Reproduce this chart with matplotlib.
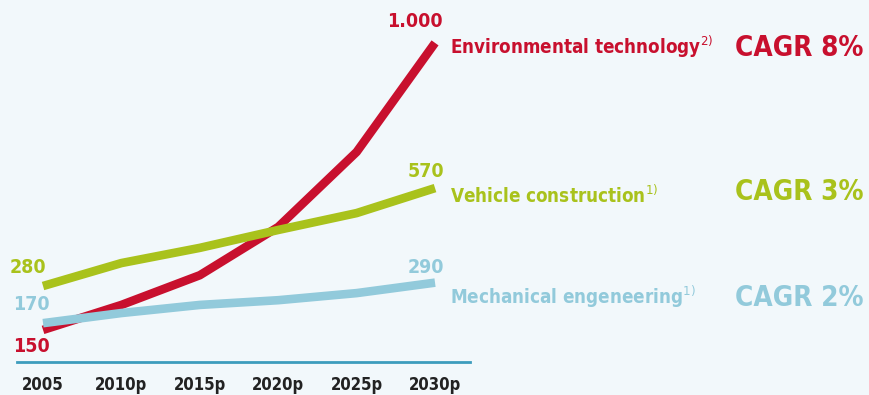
## Market growth by sector, 2005 - 2030 (index style line chart)

import matplotlib
matplotlib.use('Agg')
import matplotlib.pyplot as plt

## data
years = [2005, 2010, 2015, 2020, 2025, 2030]
year_labels = ['2005', '2010p', '2015p', '2020p', '2025p', '2030p']
environmental = [150, 224, 312, 455, 677, 1000]
vehicle = [280, 348, 393, 446, 496, 570]
mechanical = [170, 200, 224, 238, 259, 290]

names = ['Environmental technology$^{2)}$', 'Vehicle construction$^{1)}$',
         'Mechanical engeneering$^{1)}$']
cagr = ['CAGR 8%', 'CAGR 3%', 'CAGR 2%']

red = '#c8102e'
green = '#a9c21c'
blue = '#92cadb'
base = '#3d9cbd'
bg = '#f2f8fb'

plt.rcParams['font.family'] = ['DejaVu Sans']
plt.rcParams['font.stretch'] = 'condensed'

fig = plt.figure(figsize=(8.69, 3.95), dpi=100, facecolor=bg)
ax = fig.add_axes([17 / 869, 1 - 362 / 395, (470 - 17) / 869, 362 / 395])
ax.set_facecolor(bg)

series = [environmental, vehicle, mechanical]
colors = [red, green, blue]
zo = [2, 3, 4]
for vals, c, z in zip(series, colors, zo):
    ax.plot(years, vals, color=c, lw=6.2, solid_joinstyle='round',
            solid_capstyle='butt', zorder=z)

ax.set_xlim(2003.34, 2032.23)
ax.set_ylim(55, 1127)

for s in ['top', 'right', 'left']:
    ax.spines[s].set_visible(False)
ax.spines['bottom'].set_color(base)
ax.spines['bottom'].set_linewidth(2)
ax.set_yticks([])
ax.set_xticks(years)
ax.set_xticklabels(year_labels, fontsize=12, fontweight='bold', color='#222222')
ax.tick_params(axis='x', length=0, pad=10)

## start values on the left
kw = dict(fontsize=14, fontweight='bold', va='center')
ax.text(2004.04, 334, '280', color=green, ha='center', **kw)
ax.text(2004.27, 224, '170', color=blue, ha='center', **kw)
ax.text(2004.27, 100, '150', color=red, ha='center', **kw)

## end values above the line ends
ax.text(2030.5, 1062, '1.000', color=red, ha='right', **kw)
ax.text(2030.6, 618, '570', color=green, ha='right', **kw)
ax.text(2030.6, 336, '290', color=blue, ha='right', **kw)

## series names and growth rates
name_y = [988, 546, 248]
cagr_y = [985, 558, 245]
for n, g, y1, y2, c in zip(names, cagr, name_y, cagr_y, colors):
    ax.text(2030.96, y1, n, color=c, fontsize=13.5, fontweight='bold',
            ha='left', va='center')
    ax.text(2049.13, y2, g, color=c, fontsize=20, fontweight='bold',
            ha='left', va='center')

fig.savefig('out.png', dpi=100, facecolor=bg)
